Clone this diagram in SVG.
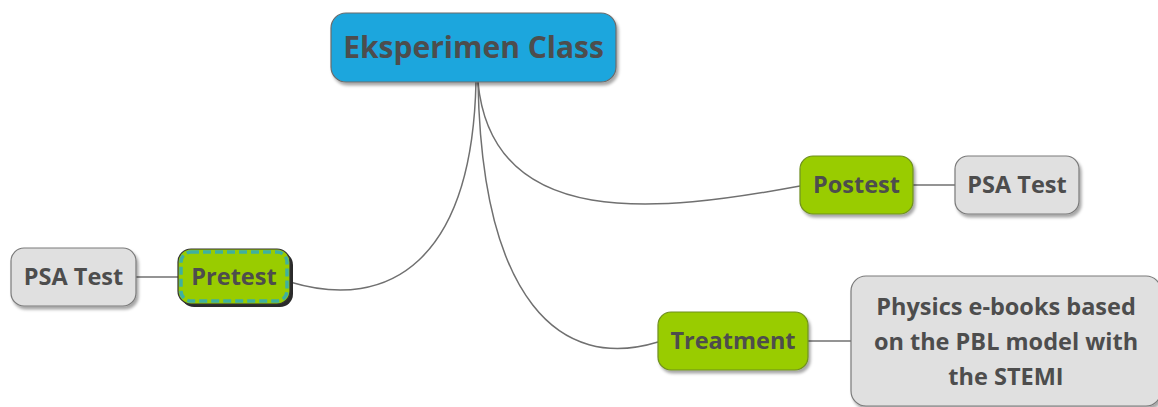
<svg xmlns="http://www.w3.org/2000/svg" width="1158" height="407" viewBox="0 0 1158 407">
<style>
.t{font-family:"Open Sans","Noto Sans","Liberation Sans",sans-serif;font-weight:bold;fill:#4d4d4d;text-anchor:middle}
.grey{fill:#e0e0e0;stroke:#7a7a7a;stroke-width:1.2}
.green{fill:#99cc00;stroke:#6f8f20;stroke-width:1.2}
.conn{fill:none;stroke:#707070;stroke-width:1.5}
</style>
<defs>
<filter id="sh" x="-20%" y="-20%" width="140%" height="150%">
<feDropShadow dx="2" dy="3" stdDeviation="1.5" flood-color="#000" flood-opacity="0.35"/>
</filter>
</defs>
<g id="connectors">
<path class="conn" d="M476 82 C472 260 390 312 290 282"/>
<path class="conn" d="M478 82 C492 232 660 212 800 186"/>
<path class="conn" d="M478 82 C482 300 560 372 658 342"/>
<line class="conn" x1="136" y1="277" x2="178" y2="277"/>
<line class="conn" x1="913" y1="185" x2="955" y2="185"/>
<line class="conn" x1="808" y1="341" x2="851" y2="341"/>
</g>
<g id="root">
<rect x="331" y="13" width="285" height="69" rx="15" fill="#1fa6dd" stroke="#6b6b6b" stroke-width="1.2" filter="url(#sh)"/>
<text class="t" x="473.5" y="58" font-size="30">Eksperimen Class</text>
</g>
<g id="pretest">
<rect x="178" y="249" width="112" height="55" rx="13" fill="#2a2a2a" transform="translate(3,3)"/>
<rect x="178" y="249" width="112" height="55" rx="13" fill="#99cc00" stroke="#333" stroke-width="1.2"/>
<rect x="181" y="252" width="106" height="49" rx="10" fill="none" stroke="#3fb0a0" stroke-width="3.5" stroke-dasharray="8 4"/>
<text class="t" x="234" y="285" font-size="23.5">Pretest</text>
</g>
<g id="psa-left">
<rect class="grey" x="11" y="248" width="125" height="58" rx="13" filter="url(#sh)"/>
<text class="t" x="73.5" y="285" font-size="23.5">PSA Test</text>
</g>
<g id="postest">
<rect class="green" x="800" y="156" width="113" height="58" rx="13" filter="url(#sh)"/>
<text class="t" x="856.5" y="193" font-size="23.5">Postest</text>
</g>
<g id="psa-right">
<rect class="grey" x="955" y="156" width="124" height="58" rx="13" filter="url(#sh)"/>
<text class="t" x="1017" y="193" font-size="23.5">PSA Test</text>
</g>
<g id="treatment">
<rect class="green" x="658" y="312" width="150" height="58" rx="13" filter="url(#sh)"/>
<text class="t" x="733" y="349" font-size="23.5">Treatment</text>
</g>
<g id="physics">
<rect class="grey" x="851" y="276" width="310" height="130" rx="15" filter="url(#sh)"/>
<text class="t" x="1006" y="315" font-size="23.5">Physics e-books based</text>
<text class="t" x="1006" y="350" font-size="23.5">on the PBL model with</text>
<text class="t" x="1006" y="385" font-size="23.5">the STEMI</text>
</g>
</svg>
